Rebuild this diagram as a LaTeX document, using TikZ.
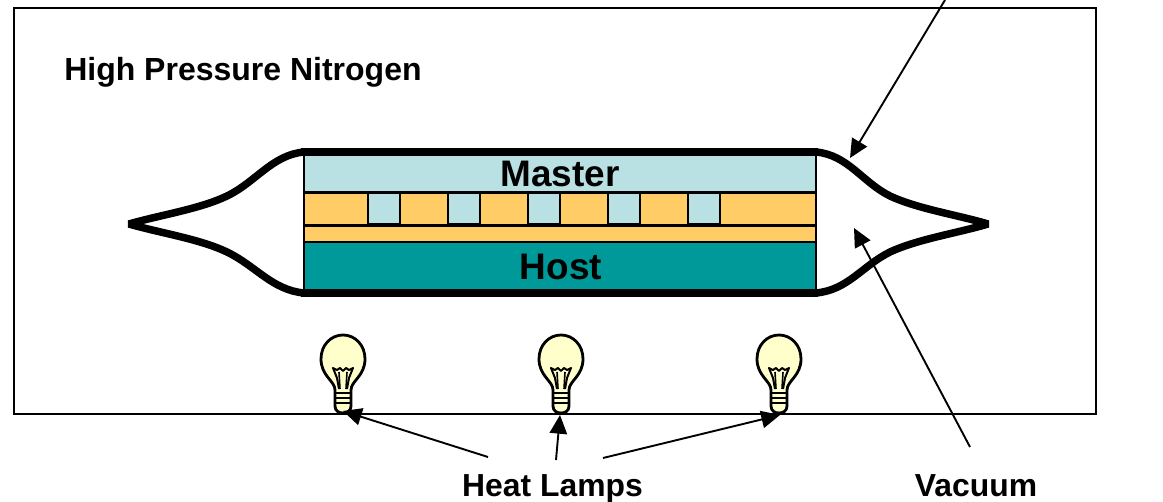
\documentclass[tikz,border=0pt]{standalone}
\usepackage{fontspec}
\setmainfont{Liberation Sans}
\usetikzlibrary{arrows.meta}
\definecolor{masterc}{HTML}{B9E0E2}
\definecolor{resistc}{HTML}{FFCC66}
\definecolor{hostc}{HTML}{009999}
\definecolor{bulbc}{HTML}{FFFFCC}
\newcommand{\pxu}{0.75pt}
\tikzset{
  x=0.75pt,y=-0.75pt,
  layer/.style={draw=black,line width=2.2*\pxu},
  bag/.style={draw=black,line width=7.5*\pxu,line join=bevel},
  bar/.style={draw=black,line width=8*\pxu},
  pointer/.style={draw=black,line width=1.9*\pxu,-{Triangle[length=14pt,width=13pt]}},
  label/.style={text=black,inner sep=0pt,anchor=base},
  bulb/.pic={
    \path[draw=black,fill=bulbc,line width=2.8*\pxu,line join=round]
      (-8,56) -- (-8,72) .. controls (-8,77) and (-4,79) .. (0,79)
      .. controls (4,79) and (8,77) .. (8,72) -- (8,56)
      .. controls (8,47) and (22,42) .. (22,25)
      .. controls (22,11) and (12,1) .. (0,1)
      .. controls (-12,1) and (-22,11) .. (-22,25)
      .. controls (-22,42) and (-8,47) .. (-8,56) -- cycle;
    \draw[line width=1.6*\pxu] (-8,59) -- (8,59) (-8,64) -- (8,64) (-8,69) -- (8,69);
    \draw[line width=2*\pxu,line join=round]
      (-4,55) -- (-6,44) -- (-10,34) -- (-6,36) -- (-3,34) -- (0,37) -- (3,34) -- (6,36) -- (10,34) -- (6,44) -- (4,55);
    \draw[line width=1.6*\pxu] (-3,55) -- (-4,38) (3,55) -- (4,38);
  }
}
\begin{document}
\begin{tikzpicture}
\useasboundingbox (0,0) rectangle (1163,502);
\draw[black,line width=1.6*\pxu] (14,8) rectangle (1096,414);

% sealed bag
\draw[bag] (304,152) .. controls (272,155) and (256,182) .. (227,196)
  .. controls (200,209) and (160,215) .. (129,224)
  .. controls (160,233) and (200,239) .. (227,252)
  .. controls (256,266) and (272,290) .. (304,293);
\draw[bag] (816,152) .. controls (848,155) and (862,182) .. (890,196)
  .. controls (918,209) and (958,215) .. (988,224)
  .. controls (958,233) and (918,239) .. (890,252)
  .. controls (862,266) and (848,290) .. (816,293);

% layers
\fill[resistc] (304,192) rectangle (816,243);
\fill[masterc] (304,152) rectangle (816,192);
\fill[hostc] (304,243) rectangle (816,293);
\foreach \sx in {368,448,528,608,688}
  \draw[layer,fill=masterc] (\sx,192) rectangle ++(32,32);
\draw[layer,line width=3*\pxu] (304,192.5) -- (816,192.5);
\draw[layer] (304,225.5) -- (816,225.5);
\draw[layer] (304,242) -- (816,242);
\draw[layer] (304,152) -- (304,293);
\draw[layer] (816,152) -- (816,293);
\draw[bar] (301,152) -- (818,152);
\draw[bar] (301,293) -- (818,293);

% lamps
\pic at (343,334) {bulb};
\pic at (561,334) {bulb};
\pic at (779,334) {bulb};

% labels
\node[label,font=\bfseries\fontsize{24pt}{26pt}\selectfont,anchor=base west] (nitrogen) at (64,81) {High Pressure Nitrogen};
\node[label,font=\bfseries\fontsize{27.7pt}{29pt}\selectfont] (master) at (560,186.5) {Master};
\node[label,font=\bfseries\fontsize{27.7pt}{29pt}\selectfont] (host) at (561,279.5) {Host};
\node[label,font=\bfseries\fontsize{23.9pt}{26pt}\selectfont] (lamps) at (552.5,496) {Heat Lamps};
\node[label,font=\bfseries\fontsize{23.9pt}{26pt}\selectfont] (vacuum) at (976,496) {Vacuum};

% connectors
\coordinate (tipA) at (343,411);
\coordinate (tipB) at (560,415);
\coordinate (tipC) at (780,415);
\coordinate (tailA) at (488,457);
\coordinate (tailB) at (556,460);
\coordinate (tailC) at (603,458);
\coordinate (tailV) at (970,447);
\coordinate (tipV) at (854,228);
\coordinate (tailT) at (945,0);
\coordinate (tipT) at (850,158);
\draw[pointer] (tailA) -- (tipA);
\draw[pointer] (tailB) -- (tipB);
\draw[pointer] (tailC) -- (tipC);
\draw[pointer] (tailV) -- (tipV);
\draw[pointer] (tailT) -- (tipT);
\end{tikzpicture}
\end{document}
